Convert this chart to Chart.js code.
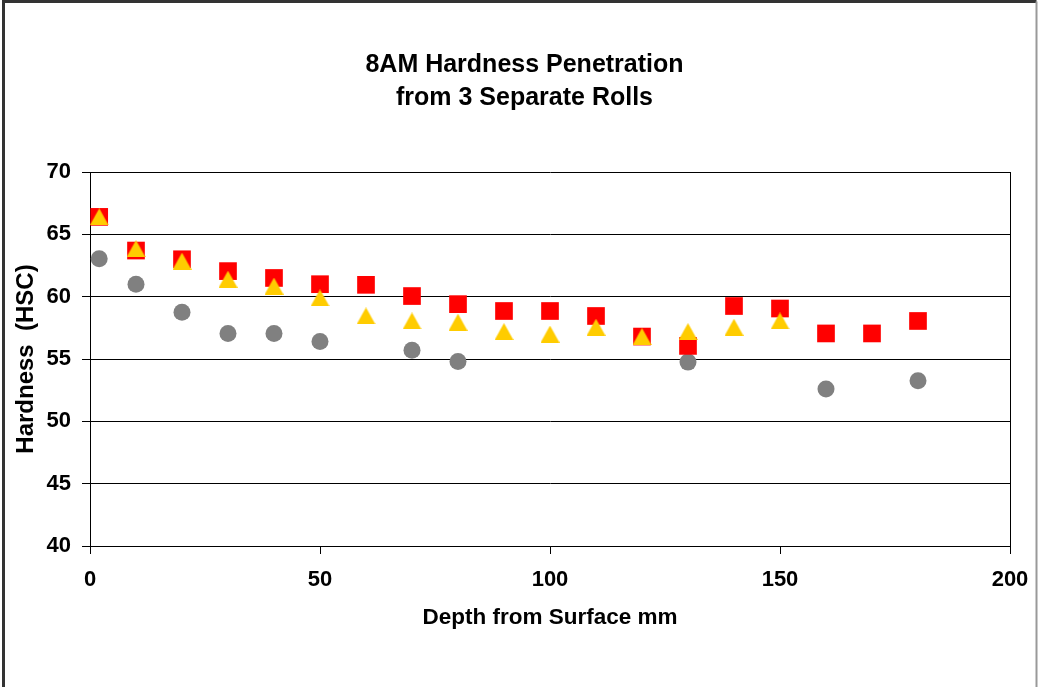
<!DOCTYPE html>
<html>
<head>
<meta charset="utf-8">
<script src="https://cdn.jsdelivr.net/npm/chart.js@4/dist/chart.umd.min.js"></script>
<style>
    html, body { margin: 0; padding: 0; background: #fff; }
    #wrap { width: 1039px; height: 687px; position: relative; }
</style>
</head>
<body>
<div id="wrap"><canvas id="chart"></canvas></div>
<script>
// --- Data ---
const roll1Depth = [2, 10, 20, 30, 40, 50, 60, 70, 80, 90, 100, 110, 120, 130, 140, 150];
const roll1Hardness = [66.4, 63.85, 62.85, 61.4, 60.85, 59.9, 58.45, 58.05, 57.95, 57.2, 57.0, 57.55, 56.8, 57.2, 57.55, 58.05];

const roll2Depth = [2, 10, 20, 30, 40, 50, 60, 70, 80, 90, 100, 110, 120, 130, 140, 150, 160, 170, 180];
const roll2Hardness = [66.4, 63.7, 63.0, 62.05, 61.5, 61.0, 60.95, 60.05, 59.4, 58.85, 58.85, 58.45, 56.8, 56.05, 59.25, 59.05, 57.05, 57.05, 58.05];

const roll3Depth = [2, 10, 20, 30, 40, 50, 70, 80, 130, 160, 180];
const roll3Hardness = [63.05, 61.0, 58.75, 57.05, 57.05, 56.4, 55.7, 54.8, 54.75, 52.6, 53.25];

const titleLines = ['8AM Hardness Penetration', 'from 3 Separate Rolls'];
const xTitle = 'Depth from Surface mm';
const yTitle = 'Hardness  (HSC)';

const FONT = '"Liberation Sans", Arial, sans-serif';

function toPoints(xs, ys) {
    return xs.map((x, i) => ({ x: x, y: ys[i] }));
}

// triangle marker centred on its box, like the spreadsheet one
function makeTriangle(w, h, color) {
    const c = document.createElement('canvas');
    c.width = w;
    c.height = h;
    const g = c.getContext('2d');
    g.fillStyle = color;
    g.beginPath();
    g.moveTo(w / 2, 0);
    g.lineTo(w, h);
    g.lineTo(0, h);
    g.closePath();
    g.fill();
    return c;
}

// outer chart frame + centred title
const framePlugin = {
    id: 'frame',
    beforeDraw(chart) {
        const ctx = chart.ctx;
        ctx.save();
        ctx.fillStyle = '#fff';
        ctx.fillRect(0, 0, chart.width, chart.height);
        ctx.strokeStyle = '#333';
        ctx.lineWidth = 3;
        ctx.beginPath();
        ctx.moveTo(3.5, chart.height + 2);
        ctx.lineTo(3.5, 1.5);
        ctx.lineTo(1036.5, 1.5);
        ctx.stroke();
        ctx.strokeStyle = '#999';
        ctx.lineWidth = 2;
        ctx.beginPath();
        ctx.moveTo(1036.5, 1.5);
        ctx.lineTo(1036.5, chart.height + 2);
        ctx.stroke();

        ctx.fillStyle = '#000';
        ctx.font = 'bold 25px ' + FONT;
        ctx.textAlign = 'center';
        ctx.textBaseline = 'middle';
        titleLines.forEach((t, i) => ctx.fillText(t, 524.5, 65.5 + i * 33));
        ctx.restore();
    }
};

const ctx = document.getElementById('chart').getContext('2d');
new Chart(ctx, {
    type: 'scatter',
    data: {
        datasets: [
            {
                label: 'Roll 1',
                data: toPoints(roll1Depth, roll1Hardness),
                pointStyle: makeTriangle(19, 17, '#FFCC00'),
                pointRadius: 10,
                backgroundColor: '#FFCC00',
                borderColor: '#FFCC00',
                borderWidth: 0
            },
            {
                label: 'Roll 2',
                data: toPoints(roll2Depth, roll2Hardness),
                pointStyle: 'rect',
                pointRadius: 12.5,
                pointHoverRadius: 12.5,
                backgroundColor: '#FF0000',
                borderColor: '#FF0000',
                borderWidth: 0
            },
            {
                label: 'Roll 3',
                data: toPoints(roll3Depth, roll3Hardness),
                pointStyle: 'circle',
                pointRadius: 8.5,
                pointHoverRadius: 8.5,
                backgroundColor: '#808080',
                borderColor: '#808080',
                borderWidth: 0
            }
        ]
    },
    options: {
        responsive: true,
        maintainAspectRatio: false,
        animation: false,
        layout: { padding: { left: 0, right: 29, top: 172, bottom: 0 } },
        plugins: {
            legend: { display: false },
            tooltip: { enabled: false },
            title: { display: false }
        },
        scales: {
            x: {
                type: 'linear',
                min: 0,
                max: 200,
                afterFit(scale) {
                    scale.height = 141;
                    scale.paddingLeft = 0;
                    scale.paddingRight = 0;
                },
                ticks: {
                    stepSize: 50,
                    color: '#000',
                    padding: 13,
                    maxRotation: 0,
                    font: { family: FONT, size: 22, weight: 'bold' }
                },
                grid: {
                    color: (c) => (c.tick && c.tick.value === 200) ? '#000' : 'rgba(0,0,0,0)',
                    tickColor: '#000',
                    tickLength: 8,
                    lineWidth: 1
                },
                border: { display: true, color: '#000', width: 1 },
                title: {
                    display: true,
                    text: xTitle,
                    color: '#000',
                    font: { family: FONT, size: 22.5, weight: 'bold' },
                    padding: { top: 0, bottom: 56 }
                }
            },
            y: {
                type: 'linear',
                min: 40,
                max: 70,
                afterFit(scale) { scale.width = 90; },
                ticks: {
                    stepSize: 5,
                    color: '#000',
                    padding: 11,
                    font: { family: FONT, size: 22, weight: 'bold' }
                },
                grid: {
                    color: '#000',
                    tickColor: '#000',
                    tickLength: 8,
                    lineWidth: 1
                },
                border: { display: true, color: '#000', width: 1 },
                title: {
                    display: true,
                    text: yTitle,
                    color: '#000',
                    font: { family: FONT, size: 24, weight: 'bold' },
                    padding: { top: 12, bottom: 0 }
                }
            }
        }
    },
    plugins: [framePlugin]
});
</script>
</body>
</html>
